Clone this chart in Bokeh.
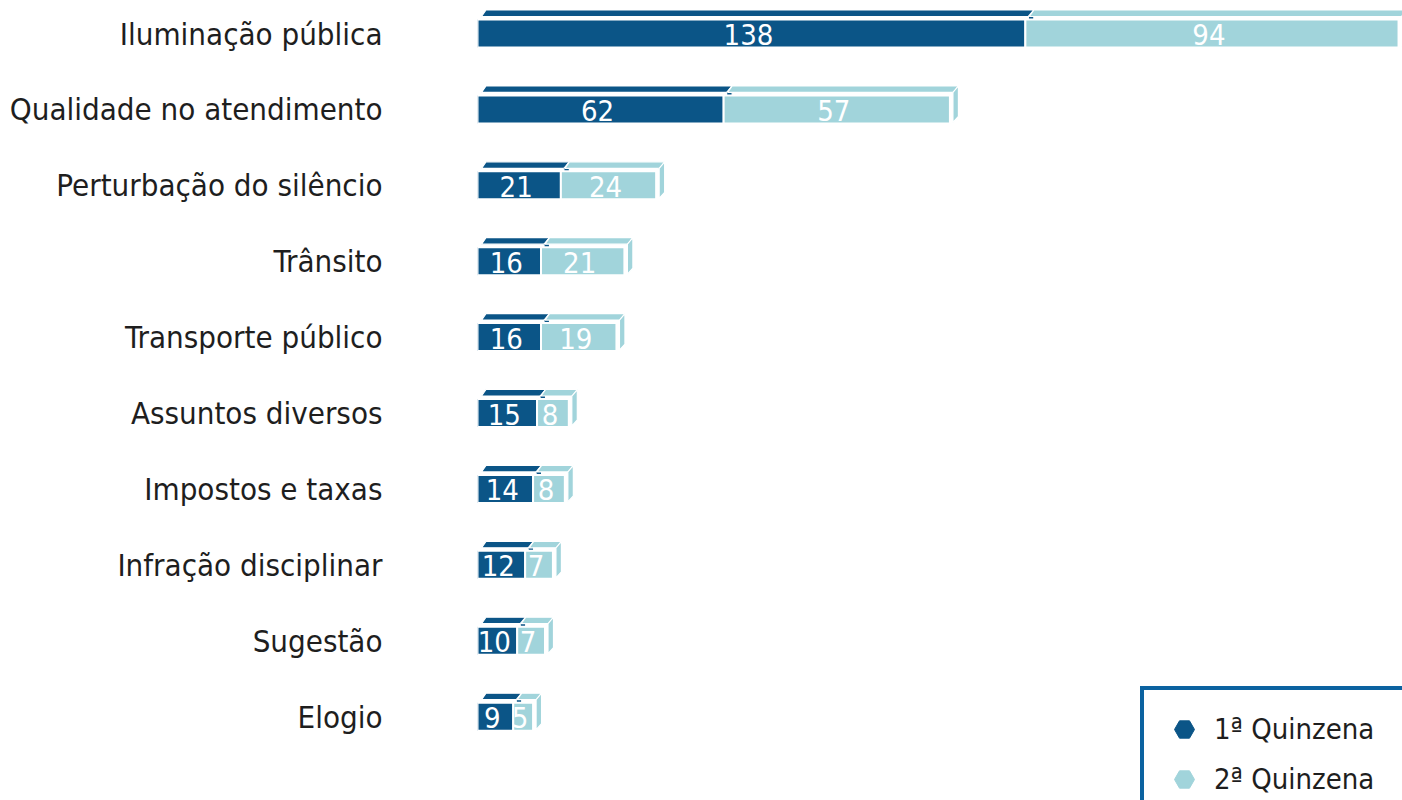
from bokeh.plotting import figure
from bokeh.models import Range1d, FixedTicker, Legend, LegendItem
from bokeh.core.properties import value
from bokeh.embed import file_html
from bokeh.resources import INLINE

categories = ["Iluminação pública", "Qualidade no atendimento", "Perturbação do silêncio",
              "Trânsito", "Transporte público", "Assuntos diversos", "Impostos e taxas",
              "Infração disciplinar", "Sugestão", "Elogio"]
q1 = [138, 62, 21, 16, 16, 15, 14, 12, 10, 9]
q2 = [94, 57, 24, 21, 19, 8, 8, 7, 7, 5]
series_names = ["1ª Quinzena", "2ª Quinzena"]
colors = ["#0b5587", "#a1d4db"]

FONT = "DejaVu Sans Condensed"
W, H = 1402, 800
LEFT = 477
X_END = 233.0
Y_TOP, Y_BOT = -0.4348, 10.105

kx = (W - LEFT) / X_END          # px per x unit
ky = H / (Y_BOT - Y_TOP)         # px per y unit

p = figure(width=W, height=H, output_backend="svg", toolbar_location=None,
           x_range=Range1d(0, X_END), y_range=Range1d(Y_BOT, Y_TOP),
           min_border_left=LEFT, min_border_right=0, min_border_top=0, min_border_bottom=0)
p.xaxis.visible = False
p.grid.visible = False
p.outline_line_color = None
p.background_fill_color = "white"
p.border_fill_color = "white"

ax = p.yaxis[0]
ax.ticker = FixedTicker(ticks=list(range(len(categories))))
ax.major_label_overrides = {i: c for i, c in enumerate(categories)}
ax.axis_line_color = None
ax.major_tick_line_color = None
ax.major_tick_out = 0
ax.major_tick_in = 0
ax.minor_tick_line_color = None
ax.major_label_standoff = 95
ax.major_label_text_font = FONT
ax.major_label_text_font_size = "31px"
ax.major_label_text_color = "#1e1e1e"

h = 14 / ky
def px(v): return v / kx
def py(v): return v / ky

renderers = []
ys = list(range(len(categories)))
for si, vals in enumerate([q1, q2]):
    lefts = list(q1) if si == 1 else [0] * len(q1)
    rights = [l + v for l, v in zip(lefts, vals)]
    top_xs, top_ys, side_xs, side_ys = [], [], [], []
    for l, r, y in zip(lefts, rights, ys):
        ft = y - h
        fb = y + h
        top_xs.append([l + px(4), r + px(4), r + px(8.5), l + px(8.5)])
        top_ys.append([ft - py(3), ft - py(3), ft - py(9.5), ft - py(9.5)])
        side_xs.append([r + px(3), r + px(8.5), r + px(8.5), r + px(3)])
        side_ys.append([ft - py(3), ft - py(9.5), fb - py(7), fb - py(1)])
    p.patches(top_xs, top_ys, fill_color=colors[si], line_color="white", line_width=1.2)
    p.patches(side_xs, side_ys, fill_color=colors[si], line_color="white", line_width=1.2)
    p.quad(left=lefts, right=rights, top=[y - h for y in ys], bottom=[y + h for y in ys],
           fill_color=colors[si], line_color="white", line_width=2)
    p.text(x=[(l + r) / 2 for l, r in zip(lefts, rights)], y=ys, text=[str(v) for v in vals],
           text_align="center", text_baseline="middle", y_offset=1, x_offset=-3,
           text_font=value(FONT), text_font_size="29px", text_color="white")
    renderers.append(p.scatter(x=[float("nan")], y=[float("nan")], marker="hex",
                               fill_color=colors[si], line_color=colors[si], size=20))

legend = Legend(items=[LegendItem(label=n, renderers=[r]) for n, r in zip(series_names, renderers)],
                location=(663, -22), padding=14, spacing=0, glyph_width=52, glyph_height=50,
                label_standoff=4, label_text_font=FONT, label_text_font_size="29px",
                label_text_color="#1e1e1e", label_height=48, label_width=186,
                border_line_color="#0b62a0", border_line_width=4, border_line_alpha=1.0,
                background_fill_color="white", background_fill_alpha=1.0)
p.add_layout(legend)

open("out.html", "w").write(file_html(p, INLINE))
